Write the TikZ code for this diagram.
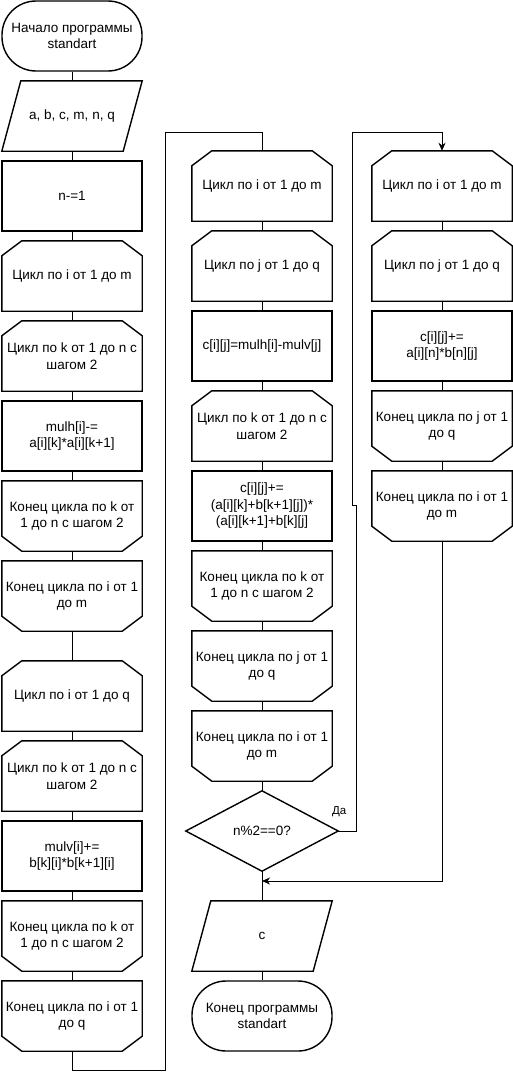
\documentclass[tikz,border=0pt]{standalone}
\usepackage{fontspec}
\setmainfont{Liberation Sans}
\usetikzlibrary{arrows.meta, calc}

\tikzset{
  block/.style={minimum width=140pt, minimum height=70pt, inner sep=1pt, align=center,
    font=\fontsize{13.5}{16.5}\selectfont},
  procbox/.style={block, draw, line width=1.4pt},
  termbox/.style={block, draw, line width=1.4pt, rounded corners=34pt},
  outline/.style={line width=1.4pt, line join=miter},
  link/.style={line width=0.9pt},
  arrowlink/.style={link, -{Stealth[length=8pt, width=7pt, inset=2.5pt]}},
  yeslabel/.style={font=\fontsize{11.5}{13}\selectfont, inner sep=0pt},
}

\begin{document}
\begin{tikzpicture}[x=1pt, y=-1pt]
  \path[fill=white, use as bounding box] (0,0) rectangle (512,1073);

  % first column
  \node[termbox] (start) at (72,36) {Начало программы\\standart};
  \node[block] (inp) at (72,116) {a, b, c, m, n, q};
  \node[procbox] (dec) at (72,196) {n-=1};
  \node[block] (l1) at (72,276) {Цикл по i от 1 до m};
  \node[block] (l2) at (72,356) {Цикл по k от 1 до n с\\шагом 2};
  \node[procbox] (mulh) at (72,436) {mulh[i]-=\\a[i][k]*a[i][k+1]};
  \node[block] (e2) at (72,516) {Конец цикла по k от\\1 до n с шагом 2};
  \node[block] (e1) at (72,596) {Конец цикла по i от 1\\до m};
  \node[block] (l3) at (72,696) {Цикл по i от 1 до q};
  \node[block] (l4) at (72,776) {Цикл по k от 1 до n с\\шагом 2};
  \node[procbox] (mulv) at (72,856) {mulv[i]+=\\b[k][i]*b[k+1][i]};
  \node[block] (e4) at (72,936) {Конец цикла по k от\\1 до n с шагом 2};
  \node[block] (e3) at (72,1016) {Конец цикла по i от 1\\до q};

  % second column
  \node[block] (a1) at (262,186) {Цикл по i от 1 до m};
  \node[block] (a2) at (262,266) {Цикл по j от 1 до q};
  \node[procbox] (cset) at (262,346) {c[i][j]=mulh[i]-mulv[j]};
  \node[block] (a3) at (262,426) {Цикл по k от 1 до n с\\шагом 2};
  \node[procbox] (cadd) at (262,506) {c[i][j]+=\\(a[i][k]+b[k+1][j])*\\(a[i][k+1]+b[k][j]};
  \node[block] (b3) at (262,586) {Конец цикла по k от\\1 до n с шагом 2};
  \node[block] (b2) at (262,666) {Конец цикла по j от 1\\до q};
  \node[block] (b1) at (262,746) {Конец цикла по i от 1\\до m};
  \node[block, minimum width=152pt, minimum height=80pt] (cond) at (262,831) {n\%2==0?};
  \node[block] (outp) at (262,936) {c};
  \node[termbox] (stop) at (262,1016) {Конец программы\\standart};

  % third column
  \node[block] (r1) at (442,186) {Цикл по i от 1 до m};
  \node[block] (r2) at (442,266) {Цикл по j от 1 до q};
  \node[procbox] (radd) at (442,346) {c[i][j]+=\\a[i][n]*b[n][j]};
  \node[block] (s2) at (442,426) {Конец цикла по j от 1\\до q};
  \node[block] (s1) at (442,506) {Конец цикла по i от 1\\до m};

  % outlines
  \foreach \n in {l1,l2,l3,l4,a1,a2,a3,r1,r2}
    \draw[outline] (\n.south west) -- ([yshift=-15pt]\n.north west) -- ([xshift=20pt]\n.north west)
      -- ([xshift=-20pt]\n.north east) -- ([yshift=-15pt]\n.north east) -- (\n.south east) -- cycle;
  \foreach \n in {e1,e2,e3,e4,b1,b2,b3,s1,s2}
    \draw[outline] (\n.north west) -- (\n.north east) -- ([yshift=15pt]\n.south east)
      -- ([xshift=-20pt]\n.south east) -- ([xshift=20pt]\n.south west) -- ([yshift=15pt]\n.south west) -- cycle;
  \foreach \n in {inp,outp}
    \draw[outline] ([xshift=19pt]\n.north west) -- (\n.north east) -- ([xshift=-19pt]\n.south east) -- (\n.south west) -- cycle;
  \draw[outline] (cond.north) -- (cond.east) -- (cond.south) -- (cond.west) -- cycle;

  % connectors
  \foreach \a/\b in {start/inp, inp/dec, dec/l1, l1/l2, l2/mulh, mulh/e2, e2/e1, e1/l3, l3/l4,
      l4/mulv, mulv/e4, e4/e3, a1/a2, a2/cset, cset/a3, a3/cadd, cadd/b3, b3/b2, b2/b1,
      b1/cond, cond/outp, outp/stop, r1/r2, r2/radd, radd/s2, s2/s1}
    \draw[link] (\a.south) -- (\b.north);

  \coordinate (merge) at (262,881);
  \draw[link] (e3.south) -- ++(0,19) -| (165,132) -| (a1.north);
  \draw[arrowlink] (cond.east) -- node[yeslabel, pos=0, xshift=1pt, yshift=19pt] {Да} (356,831)
    -- (356,505) -- (352,505) -- (352,132) -| (r1.north);
  \draw[arrowlink] (s1.south) |- (merge);
\end{tikzpicture}
\end{document}
